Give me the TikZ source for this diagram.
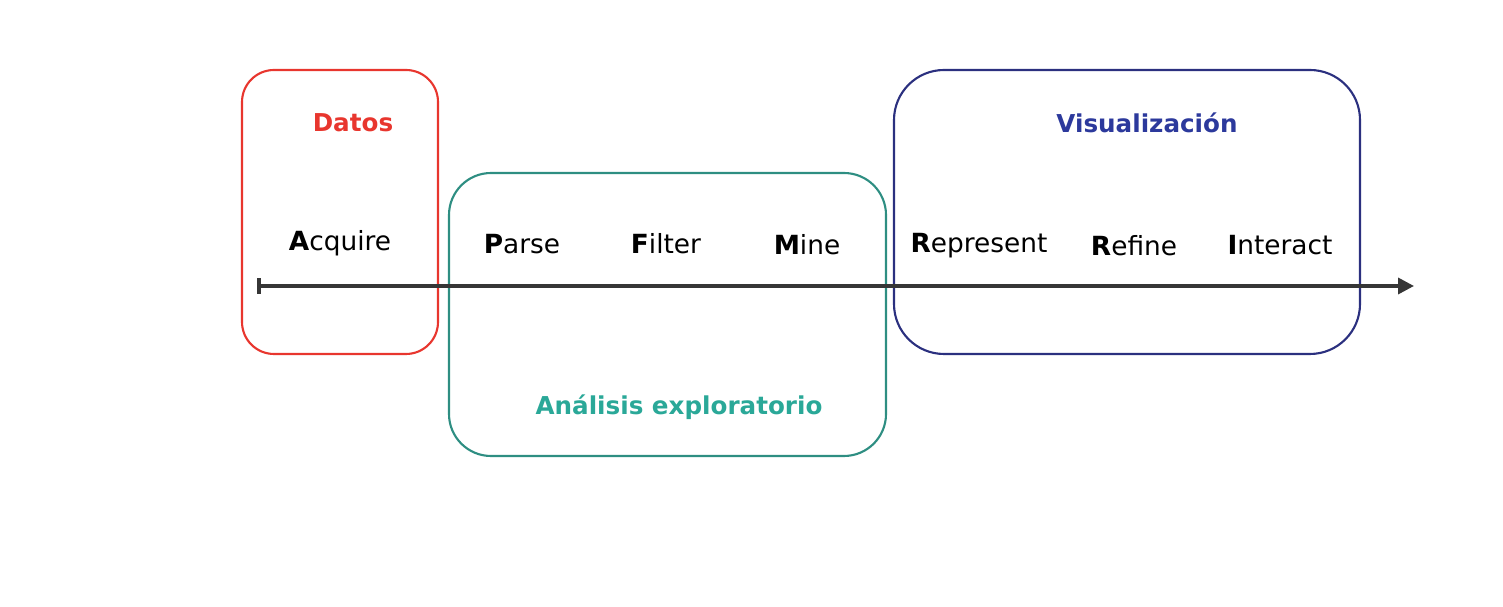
\documentclass[tikz,border=0pt]{standalone}
\usepackage{fontspec}
\setmainfont{DejaVu Sans}
\usetikzlibrary{arrows.meta}
\definecolor{datosred}{HTML}{E8362E}
\definecolor{analteal}{HTML}{2AA898}
\definecolor{analedge}{HTML}{2E8E82}
\definecolor{visblue}{HTML}{2C399C}
\definecolor{visedge}{HTML}{2B307F}
\definecolor{axisgray}{HTML}{363636}

\begin{document}
\begin{tikzpicture}[x=0.01cm,y=-0.01cm,
  stage/.style={font=\fontsize{7.5}{9}\selectfont,text=black},
  phase/.style={font=\fontsize{7}{9}\selectfont\bfseries},
  phasebox/.style={line width=0.6pt}]
\useasboundingbox (0,0) rectangle (1503,607);
% the three phases
\draw[phasebox,datosred,rounded corners=0.32cm] (242,70) rectangle (438,354);
\draw[phasebox,analedge,rounded corners=0.42cm] (449,173) rectangle (886,456);
\draw[phasebox,visedge,rounded corners=0.5cm] (894,70) rectangle (1360,354);
\node[phase,text=datosred] (datos) at (353,123) {Datos};
\node[phase,text=analteal] (analisis) at (679,407) {Análisis exploratorio};
\node[phase,text=visblue] (visual) at (1147,123) {Visualización};
% the time axis
\coordinate (start) at (257,286);
\coordinate (end) at (1414,286);
\draw[axisgray,line width=1pt,{Bar[width=4.5pt]}-{Triangle[length=4.5pt,width=4.5pt]}] (start) -- (end);
% the steps
\foreach \name/\x/\y/\first/\rest in {acquire/340/243/A/cquire,parse/522/244/P/arse,
    filter/666/244/F/ilter,mine/807/245/M/ine,represent/979/246/R/epresent,
    refine/1134/246/R/efine,interact/1280/245/I/nteract}
\node[stage] (\name) at (\x,\y) {\textbf{\first}\rest};
\end{tikzpicture}
\end{document}
